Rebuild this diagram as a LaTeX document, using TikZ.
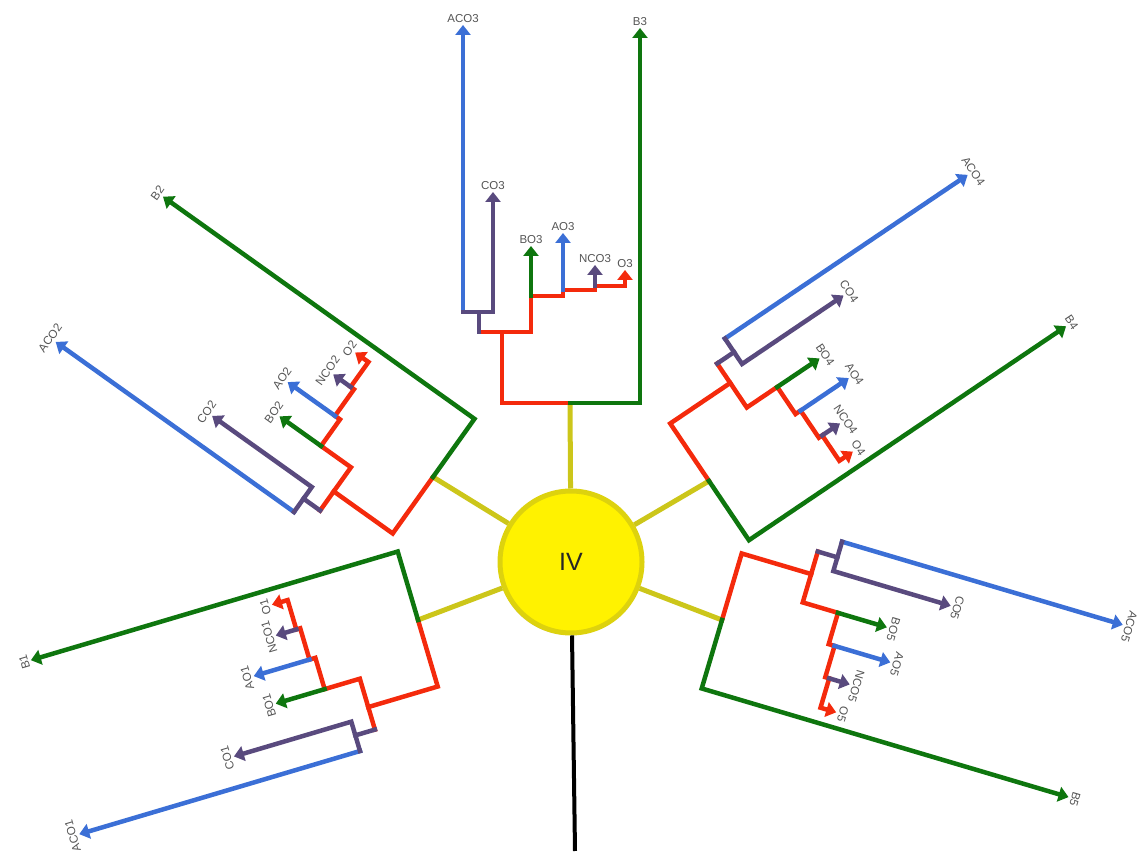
\documentclass[tikz,border=0pt]{standalone}
\usepackage{fontspec}
\setsansfont{Liberation Sans}
\usetikzlibrary{arrows.meta,shadows}

\definecolor{treered}{HTML}{F42A0C}
\definecolor{treegreen}{HTML}{0E760E}
\definecolor{treeblue}{HTML}{3B6FD6}
\definecolor{treepurple}{HTML}{594A7E}
\definecolor{spokeyellow}{HTML}{CCC61A}
\definecolor{hubring}{HTML}{DDD20E}
\definecolor{leafgray}{HTML}{555555}

\tikzset{
  limb/.style={line width=4.5pt, line cap=rect, line join=miter},
  redln/.style={limb, treered},
  grnln/.style={limb, treegreen},
  bluln/.style={limb, treeblue},
  purln/.style={limb, treepurple},
  arrowend/.style={-{Triangle[width=15pt,length=10pt]}},
  leaf/.style={anchor=south, inner sep=2.5pt, text=leafgray, font=\sffamily\fontsize{11.5}{13}\selectfont},
  spoke/.style={line width=5pt, spokeyellow},
  tailline/.style={line width=4pt, black},
  hub/.style={circle, minimum size=142pt, fill=yellow, draw=hubring, line width=5pt,
    font=\sffamily\fontsize{25}{30}\selectfont, text=black!85,
    drop shadow={shadow xshift=-1.5pt, shadow yshift=-2pt, fill=black!35, opacity=0.6}},
}

% one cladogram, root at (0,0), growing upwards
\newcommand{\cladetree}[1]{%
  \coordinate (rl#1) at (-68,0);
  \coordinate (rr#1) at (70,0);
  \coordinate (in#1) at (-68,71);
  \coordinate (pl#1) at (-91,71);
  \coordinate (pb#1) at (-91,91);
  \coordinate (pa#1) at (-107,91);
  \coordinate (pc#1) at (-77,91);
  \coordinate (la#1) at (-39,71);
  \coordinate (lb#1) at (-39,107);
  \coordinate (lc#1) at (-7,107);
  \coordinate (ld#1) at (-7,113);
  \coordinate (le#1) at (25,113);
  \coordinate (lf#1) at (25,117);
  \coordinate (lg#1) at (55,117);
  % leaves
  \node[leaf] (b#1)   at (70,375)   {B#1};
  \node[leaf] (aco#1) at (-107,378) {ACO#1};
  \node[leaf] (co#1)  at (-77,211)  {CO#1};
  \node[leaf] (bo#1)  at (-39,157)  {BO#1};
  \node[leaf] (ao#1)  at (-7,170)   {AO#1};
  \node[leaf] (nco#1) at (25,138)   {NCO#1};
  \node[leaf] (o#1)   at (55,133)   {O#1};
  % branches
  \draw[redln] (root#1) -- (rl#1) -- (in#1);
  \draw[redln,arrowend] (pl#1) -- (la#1) -- (lb#1) -- (lc#1) -- (ld#1) -- (le#1) -- (lf#1) -- (lg#1) -- (o#1);
  \draw[grnln,arrowend] (root#1) -- (rr#1) -- (b#1);
  \draw[grnln,arrowend] (lb#1) -- (bo#1);
  \draw[bluln,arrowend] (pa#1) -- (aco#1);
  \draw[bluln,arrowend] (ld#1) -- (ao#1);
  \draw[purln] (pl#1) -- (pb#1);
  \draw[purln,arrowend] (pa#1) -- (pc#1) -- (co#1);
  \draw[purln,arrowend] (lf#1) -- (nco#1);
}

\begin{document}
\begin{tikzpicture}[x=1pt,y=1pt]
  \useasboundingbox (0,0) rectangle (1146,854);

  \node[hub] (hub) at (571,292) {IV};

  \coordinate (root1) at (418,234);
  \coordinate (root2) at (433,377);
  \coordinate (root3) at (570,451);
  \coordinate (root4) at (709,373);
  \coordinate (root5) at (722,234);
  \coordinate (tailend) at (575,3);

  \foreach \n in {1,...,5}
    \draw[spoke] (hub) -- (root\n);
  \draw[tailline] (hub) -- (tailend);

  \foreach \n/\ang/\sc in {1/106.5/1.02, 2/54.5/1.02, 3/0/1, 4/-56/1.02, 5/-106.5/1.02}{
    \begin{scope}[shift={(root\n)}, rotate=\ang, scale=\sc, transform shape]
      \cladetree{\n}
    \end{scope}
  }
\end{tikzpicture}
\end{document}
